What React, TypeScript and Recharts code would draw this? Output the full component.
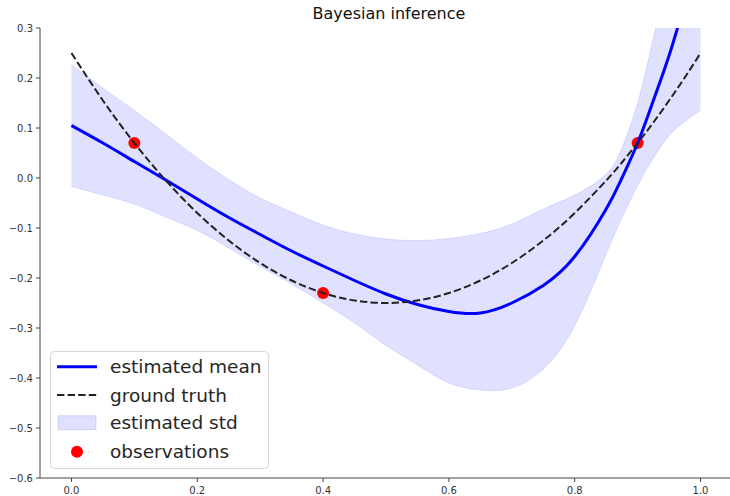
import React from 'react'
import {
  ComposedChart,
  Area,
  Line,
  Scatter,
  XAxis,
  YAxis,
  Legend,
} from 'recharts'

// values
const xs = [
  0, 0.05, 0.1, 0.15, 0.2, 0.25, 0.3, 0.35, 0.4, 0.45, 0.5, 0.55, 0.6, 0.65,
  0.7, 0.75, 0.8, 0.85, 0.875, 0.9, 0.925, 0.95, 0.975, 1.0,
]
const estMean = [
  0.105, 0.07, 0.033, -0.004, -0.042, -0.079, -0.113, -0.146, -0.176, -0.205,
  -0.232, -0.253, -0.267, -0.27, -0.25, -0.215, -0.157, -0.062, 0.0, 0.07,
  0.155, 0.245, 0.35, 0.46,
]
const groundTruth = [
  0.25, 0.155, 0.07, -0.005, -0.07, -0.125, -0.17, -0.205, -0.23, -0.245,
  -0.25, -0.245, -0.23, -0.205, -0.17, -0.125, -0.07, -0.005, 0.031, 0.07,
  0.111, 0.155, 0.201, 0.25,
]
const stdUpper = [
  0.226, 0.18, 0.135, 0.088, 0.04, -0.003, -0.04, -0.068, -0.094, -0.112,
  -0.122, -0.125, -0.121, -0.111, -0.092, -0.062, -0.034, 0.008, 0.06, 0.15,
  0.28, 0.42, 0.56, 0.7,
]
const stdLower = [
  -0.017, -0.034, -0.052, -0.078, -0.105, -0.14, -0.177, -0.212, -0.25,
  -0.29, -0.335, -0.374, -0.41, -0.424, -0.42, -0.382, -0.295, -0.152, -0.08,
  -0.015, 0.04, 0.085, 0.113, 0.136,
]
const obsX = [0.1, 0.4, 0.9]
const obsY = [0.07, -0.23, 0.07]

const xTicks = [0, 0.2, 0.4, 0.6, 0.8, 1.0]
const yTicks = [-0.6, -0.5, -0.4, -0.3, -0.2, -0.1, 0, 0.1, 0.2, 0.3]

const data = xs.map((x, i) => ({
  x,
  mean: estMean[i],
  truth: groundTruth[i],
  band: [stdLower[i], stdUpper[i]],
}))
const observations = obsX.map((x, i) => ({ x, y: obsY[i] }))

const font = '"DejaVu Sans", sans-serif'
const fmt = (v: number) => v.toFixed(1).replace('-', '\u2212')
const tickStyle = { fontSize: 10, fill: '#333', fontFamily: font }

function LegendBox() {
  const rows = [15.7, 44, 71.7, 100.7]
  const labels = ['estimated mean', 'ground truth', 'estimated std', 'observations']
  return (
    <svg width={219} height={118} style={{ display: 'block' }}>
      <rect
        x={0.5}
        y={0.5}
        width={218}
        height={117}
        rx={4}
        fill="rgba(255,255,255,0.8)"
        stroke="#d6d6d6"
      />
      <line x1={7} x2={47} y1={rows[0]} y2={rows[0]} stroke="#0000ff" strokeWidth={3} />
      <line
        x1={7}
        x2={47}
        y1={rows[1]}
        y2={rows[1]}
        stroke="#222"
        strokeWidth={2}
        strokeDasharray="7.4 3.2"
      />
      <rect
        x={8}
        y={rows[2] - 7}
        width={38}
        height={14}
        fill="rgba(0,0,255,0.12)"
        stroke="rgba(0,0,255,0.12)"
      />
      <circle cx={27} cy={rows[3]} r={6} fill="#ff0000" />
      {labels.map((t, i) => (
        <text
          key={t}
          x={60}
          y={rows[i]}
          dominantBaseline="central"
          fontSize={18.5}
          fontFamily={font}
          fill="#262626"
        >
          {t}
        </text>
      ))}
    </svg>
  )
}

export default function App() {
  return (
    <div
      style={{
        position: 'absolute',
        left: 0,
        top: 0,
        width: 730,
        height: 496,
        overflow: 'hidden',
        background: '#fff',
        fontFamily: font,
      }}
    >
      <div
        style={{
          position: 'absolute',
          left: 43,
          width: 692,
          top: 4,
          height: 20,
          lineHeight: '20px',
          fontSize: 16,
          textAlign: 'center',
          color: '#111',
        }}
      >
        Bayesian inference
      </div>
      <ComposedChart
        width={740}
        height={496}
        data={data}
        margin={{ top: 28, right: 8, bottom: 0, left: 0 }}
      >
        <XAxis
          dataKey="x"
          type="number"
          domain={[-0.05, 1.05]}
          ticks={xTicks}
          tickFormatter={fmt}
          allowDataOverflow
          height={18}
          tickSize={4}
          tickMargin={5}
          tick={tickStyle}
          axisLine={{ stroke: '#444' }}
          tickLine={{ stroke: '#444' }}
        />
        <XAxis
          xAxisId="top"
          orientation="top"
          dataKey="x"
          type="number"
          domain={[-0.05, 1.05]}
          allowDataOverflow
          height={0}
          tick={false}
          tickLine={false}
          axisLine={{ stroke: '#444' }}
        />
        <YAxis
          type="number"
          domain={[-0.6, 0.3]}
          ticks={yTicks}
          tickFormatter={fmt}
          allowDataOverflow
          width={40}
          tickSize={4}
          tickMargin={3}
          tick={tickStyle}
          axisLine={{ stroke: '#444' }}
          tickLine={{ stroke: '#444' }}
        />
        <Area
          dataKey="band"
          type="natural"
          fill="#0000ff"
          fillOpacity={0.12}
          stroke="#0000ff"
          strokeOpacity={0.1}
          isAnimationActive={false}
          activeDot={false}
        />
        <Scatter
          data={observations}
          dataKey="y"
          fill="#ff0000"
          zIndex={350}
          isAnimationActive={false}
          shape={(p: any) => <circle cx={p.cx} cy={p.cy} r={6} fill="#ff0000" />}
        />
        <Line
          dataKey="mean"
          type="natural"
          stroke="#0000ff"
          strokeWidth={3}
          dot={false}
          activeDot={false}
          isAnimationActive={false}
        />
        <Line
          dataKey="truth"
          type="natural"
          stroke="#222"
          strokeWidth={2}
          strokeDasharray="7.4 3.2"
          dot={false}
          activeDot={false}
          isAnimationActive={false}
        />
        <Legend
          layout="horizontal"
          verticalAlign="middle"
          align="center"
          content={() => <LegendBox />}
          wrapperStyle={{ left: 50, top: 351, width: 219, height: 118 }}
        />
      </ComposedChart>
    </div>
  )
}
